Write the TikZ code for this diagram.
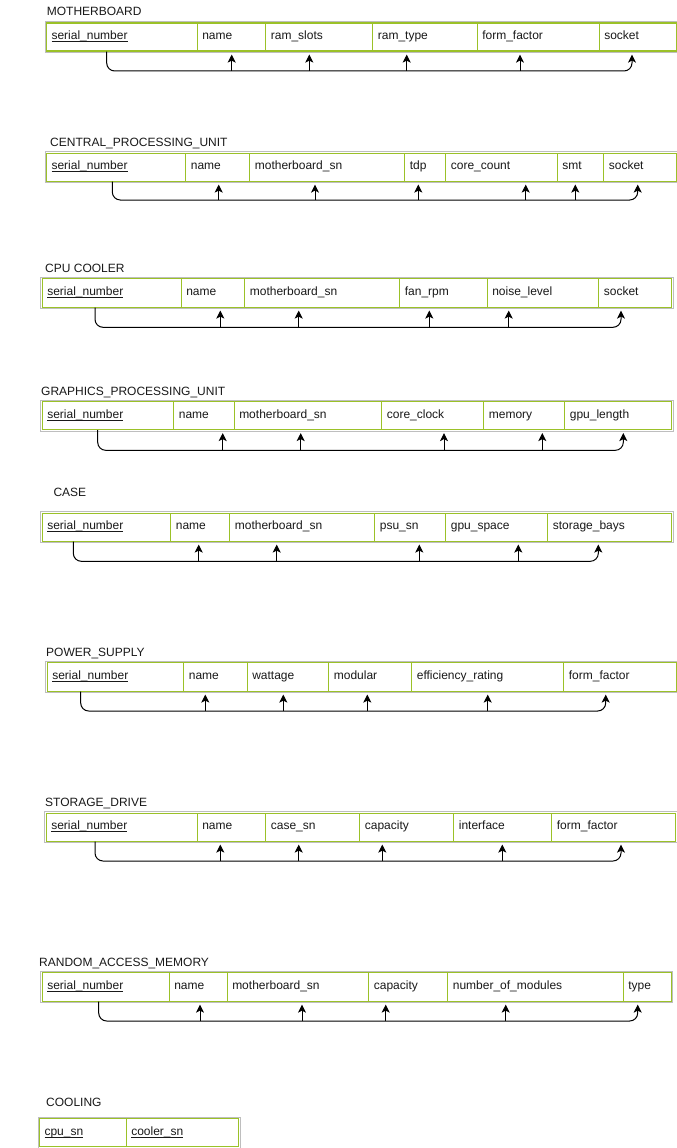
\documentclass[tikz,border=0pt]{standalone}
\usepackage{fontspec}
\setmainfont{Liberation Sans}
\usetikzlibrary{arrows.meta,calc}
\definecolor{tgreen}{RGB}{155,193,40}
\definecolor{tgray}{RGB}{190,190,190}
\definecolor{ttext}{RGB}{25,25,25}
\newcommand\keyul[1]{\setbox0\hbox{#1}\rlap{\rule[-1.8pt]{\wd0}{0.7pt}}\box0}
\newcommand\ecell[6]{%
  \pgfmathsetmacro\ecW{#3-#2}\pgfmathsetmacro\ecT{#3-#2-10}\pgfmathsetmacro\ecH{#5-#4}%
  \node[cell, minimum width=\ecW pt, text width=\ecT pt, minimum height=\ecH pt] (#1) at (#2,#4) {\strut #6};}
\newcommand\eouter[2]{%
  \draw[outerbox] ($(#1.north west)+(-0.95,-0.95)$) rectangle ($(#2.south east)+(0.95,0.95)$);}
\newcommand\espine[7]{%
  \coordinate (#1S) at ([xshift=#3pt]#2.south west);
  \coordinate (#1H) at (0,#4);
  \coordinate (#1E) at ([xshift=#7pt]#6.south west);
  \draw[conn,rounded corners=8pt] (#1S) -- (#1S|-#1H) -- (#1E|-#1H) -- (#1E);
  \foreach \c/\o in {#5} {\coordinate (#1T\c) at ([xshift=\o pt]\c.south west); \draw[conn] (#1T\c|-#1H) -- (#1T\c);}
}
\begin{document}
\begin{tikzpicture}[x=1pt,y=-1pt,
  cell/.style={draw=tgreen, line width=1.1pt, fill=white, anchor=north west, inner xsep=5pt, inner ysep=0pt,
    align=left, font=\fontsize{12pt}{14.5pt}\selectfont, text=ttext},
  outerbox/.style={draw=tgray, line width=0.8pt},
  ttl/.style={anchor=west, inner sep=0pt, text height=8.6pt, text depth=0pt, font=\fontsize{12pt}{14.5pt}\selectfont, text=ttext},
  conn/.style={draw=black, line width=1pt, -{Stealth[length=8pt,width=8pt,inset=2pt]}, shorten >=3pt}]
\useasboundingbox (0,0) rectangle (677,1148);
\fill[white] (0,0) rectangle (677,1148);

% MOTHERBOARD
\node[ttl] (mbTitle) at (46.7,11) {MOTHERBOARD};
\ecell{mb1}{46}{196.7}{22.5}{50.5}{\keyul{serial\_number}}
\ecell{mb2}{196.7}{265.3}{22.5}{50.5}{name}
\ecell{mb3}{265.3}{372.3}{22.5}{50.5}{ram\_slots}
\ecell{mb4}{372.3}{476.7}{22.5}{50.5}{ram\_type}
\ecell{mb5}{476.7}{598.7}{22.5}{50.5}{form\_factor}
\ecell{mb6}{598.7}{675.7}{22.5}{50.5}{socket}
\eouter{mb1}{mb6}
\espine{mb}{mb1}{60.7}{71}{mb2/35,mb3/44,mb4/34.4,mb5/43.3}{mb6}{33.3}

% CENTRAL_PROCESSING_UNIT
\node[ttl] (cpuTitle) at (50,141.7) {CENTRAL\_PROCESSING\_UNIT};
\ecell{cpu1}{46}{185.3}{152.5}{180.5}{\keyul{serial\_number}}
\ecell{cpu2}{185.3}{249.3}{152.5}{180.5}{name}
\ecell{cpu3}{249.3}{404.3}{152.5}{180.5}{motherboard\_sn}
\ecell{cpu4}{404.3}{445.3}{152.5}{180.5}{tdp}
\ecell{cpu5}{445.3}{556.7}{152.5}{180.5}{core\_count}
\ecell{cpu6}{556.7}{603.3}{152.5}{180.5}{smt}
\ecell{cpu7}{603.3}{676}{152.5}{180.5}{socket}
\eouter{cpu1}{cpu7}
\espine{cpu}{cpu1}{66.3}{200}{cpu2/33.4,cpu3/65.7,cpu4/14,cpu5/80.4,cpu6/18.6}{cpu7}{34.4}

% CPU COOLER
\node[ttl] (clTitle) at (45,267.7) {CPU COOLER};
\ecell{cl1}{41.7}{180.7}{278}{306.5}{\keyul{serial\_number}}
\ecell{cl2}{180.7}{244.3}{278}{306.5}{name}
\ecell{cl3}{244.3}{399.3}{278}{306.5}{motherboard\_sn}
\ecell{cl4}{399.3}{486.7}{278}{306.5}{fan\_rpm}
\ecell{cl5}{486.7}{598.3}{278}{306.5}{noise\_level}
\ecell{cl6}{598.3}{671}{278}{306.5}{socket}
\eouter{cl1}{cl6}
\espine{cl}{cl1}{53.3}{327.3}{cl2/39.6,cl3/54.4,cl4/30,cl5/22}{cl6}{22.7}

% GRAPHICS_PROCESSING_UNIT
\node[ttl] (gTitle) at (41,390.7) {GRAPHICS\_PROCESSING\_UNIT};
\ecell{g1}{41.7}{173.3}{401}{429}{\keyul{serial\_number}}
\ecell{g2}{173.3}{233.7}{401}{429}{name}
\ecell{g3}{233.7}{381.3}{401}{429}{motherboard\_sn}
\ecell{g4}{381.3}{483.3}{401}{429}{core\_clock}
\ecell{g5}{483.3}{564.3}{401}{429}{memory}
\ecell{g6}{564.3}{671}{401}{429}{gpu\_length}
\eouter{g1}{g6}
\espine{g}{g1}{56}{450.3}{g2/49.4,g3/67,g4/62.7,g5/59}{g6}{59}

% CASE
\node[ttl] (csTitle) at (53.3,491.7) {CASE};
\ecell{cs1}{41.7}{170.3}{512.5}{540.5}{\keyul{serial\_number}}
\ecell{cs2}{170.3}{229.3}{512.5}{540.5}{name}
\ecell{cs3}{229.3}{374.3}{512.5}{540.5}{motherboard\_sn}
\ecell{cs4}{374.3}{445.3}{512.5}{540.5}{psu\_sn}
\ecell{cs5}{445.3}{547.3}{512.5}{540.5}{gpu\_space}
\ecell{cs6}{547.3}{671}{512.5}{540.5}{storage\_bays}
\eouter{cs1}{cs6}
\espine{cs}{cs1}{31.6}{561.3}{cs2/28.4,cs3/47.4,cs4/45,cs5/73}{cs6}{51}

% POWER_SUPPLY
\node[ttl] (psTitle) at (46,651.7) {POWER\_SUPPLY};
\ecell{ps1}{46.7}{183.3}{662.3}{690.5}{\keyul{serial\_number}}
\ecell{ps2}{183.3}{246.7}{662.3}{690.5}{name}
\ecell{ps3}{246.7}{328.3}{662.3}{690.5}{wattage}
\ecell{ps4}{328.3}{411.3}{662.3}{690.5}{modular}
\ecell{ps5}{411.3}{563.3}{662.3}{690.5}{efficiency\_rating}
\ecell{ps6}{563.3}{675.7}{662.3}{690.5}{form\_factor}
\eouter{ps1}{ps6}
\espine{ps}{ps1}{34}{711}{ps2/22,ps3/36.6,ps4/39,ps5/76.4}{ps6}{42.4}

% STORAGE_DRIVE
\node[ttl] (sdTitle) at (45,801.7) {STORAGE\_DRIVE};
\ecell{sd1}{45.7}{196.7}{812.5}{840.5}{\keyul{serial\_number}}
\ecell{sd2}{196.7}{265.3}{812.5}{840.5}{name}
\ecell{sd3}{265.3}{359.3}{812.5}{840.5}{case\_sn}
\ecell{sd4}{359.3}{453.3}{812.5}{840.5}{capacity}
\ecell{sd5}{453.3}{551.3}{812.5}{840.5}{interface}
\ecell{sd6}{551.3}{675}{812.5}{840.5}{form\_factor}
\eouter{sd1}{sd6}
\espine{sd}{sd1}{49.3}{861}{sd2/23.6,sd3/33.4,sd4/23,sd5/49}{sd6}{69.7}

% RANDOM_ACCESS_MEMORY
\node[ttl] (rmTitle) at (39,961.7) {RANDOM\_ACCESS\_MEMORY};
\ecell{rm1}{41.7}{168.7}{972.3}{1000.5}{\keyul{serial\_number}}
\ecell{rm2}{168.7}{226.7}{972.3}{1000.5}{name}
\ecell{rm3}{226.7}{368.3}{972.3}{1000.5}{motherboard\_sn}
\ecell{rm4}{368.3}{447.3}{972.3}{1000.5}{capacity}
\ecell{rm5}{447.3}{622.7}{972.3}{1000.5}{number\_of\_modules}
\ecell{rm6}{622.7}{670.7}{972.3}{1000.5}{type}
\eouter{rm1}{rm6}
\espine{rm}{rm1}{57}{1021}{rm2/31.3,rm3/75.3,rm4/17.4,rm5/58.4}{rm6}{15}

% COOLING
\node[ttl] (coTitle) at (46,1101.7) {COOLING};
\ecell{co1}{39}{125.7}{1117.9}{1146.2}{\keyul{cpu\_sn}}
\ecell{co2}{125.7}{238}{1117.9}{1146.2}{\keyul{cooler\_sn}}
\eouter{co1}{co2}
\end{tikzpicture}
\end{document}
